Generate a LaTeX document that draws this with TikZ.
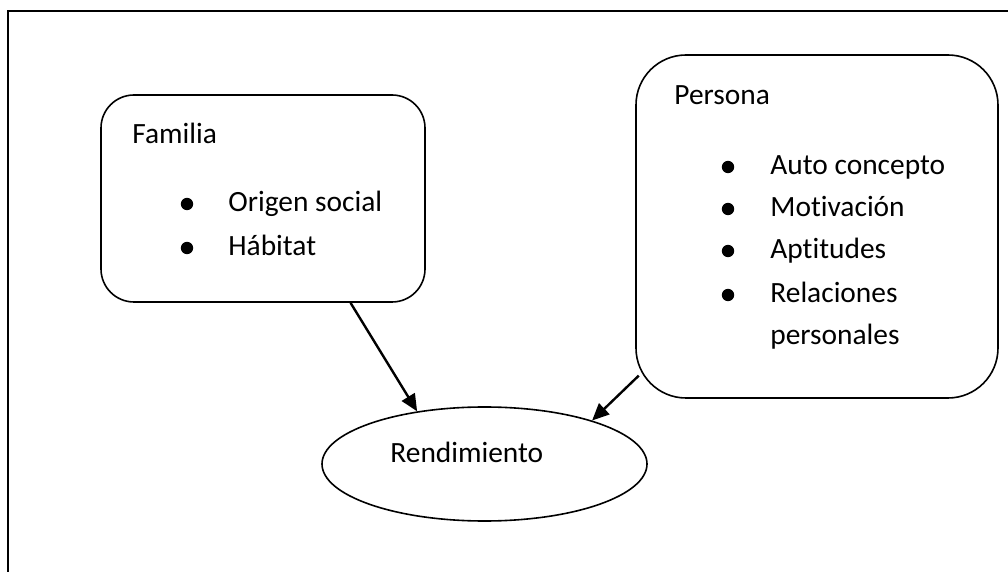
\documentclass[tikz,border=0pt]{standalone}
\usepackage{fontspec}
\setmainfont{Carlito}[Ligatures={NoCommon}]
\usetikzlibrary{shapes.geometric,arrows.meta}
\begin{document}
\begin{tikzpicture}[x=0.5pt,y=-0.5pt,
  txt/.style={anchor=base west,inner sep=0pt,font=\fontsize{14.7}{17}\selectfont},
  dot/.style={circle,fill=black,inner sep=0pt,minimum size=6.2pt},
  box/.style={draw,line width=0.8pt,inner sep=0pt},
  arr/.style={line width=1.2pt,-{Triangle[length=8.5pt,width=7.5pt]}}]
\useasboundingbox (0,0) rectangle (1008,572);
\draw[line width=1pt] (8,590) -- (8,11) -- (1020,11);
% boxes
\node[box,rounded corners=16.5pt,minimum width=162pt,minimum height=103.5pt] (fam) at (263,198.5) {};
\node[box,rounded corners=25pt,minimum width=181pt,minimum height=171.5pt] (per) at (817,226.5) {};
\node[box,ellipse,minimum width=162.5pt,minimum height=57pt] (ell) at (484.5,464) {};
% Familia texts
\node[txt] (famt) at (132,144) {Familia};
\node[dot] (fb1) at (187,204) {};
\node[dot] (fb2) at (187,248) {};
\node[txt] (f1) at (228,212) {Origen social};
\node[txt] (f2) at (228,256) {Hábitat};
% Persona texts
\node[txt] (pert) at (674,105) {Persona};
\node[dot] (pb1) at (728,167) {};
\node[dot] (pb2) at (728,209) {};
\node[dot] (pb3) at (728,251) {};
\node[dot] (pb4) at (728,295) {};
\node[txt] (p1) at (770,175) {Auto concepto};
\node[txt] (p2) at (770,217) {Motivación};
\node[txt] (p3) at (770,259) {Aptitudes};
\node[txt] (p4) at (770,303) {Relaciones};
\node[txt] (p5) at (770,345) {personales};
% Rendimiento
\node[txt] (rt) at (390,463) {Rendimiento};
% arrows
\draw[arr] (fam.-50.5) -- (ell.142.8);
\draw[arr,shorten <=-2.5pt] (per.220.2) -- (ell.22.2);
\end{tikzpicture}
\end{document}
